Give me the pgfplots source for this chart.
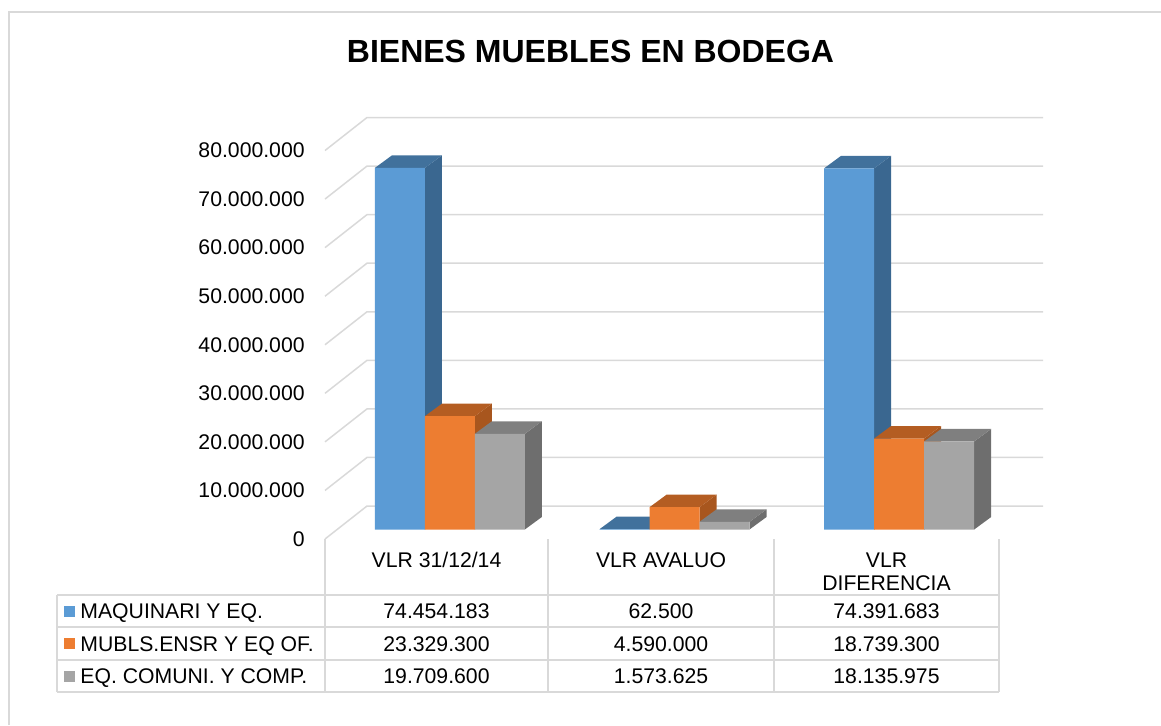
\documentclass[border=0pt]{standalone}
\usepackage{fontspec}
\setmainfont{Liberation Sans}
\usepackage{pgfplots}
\usepackage{pgfplotstable}
\pgfplotsset{compat=1.18}

\definecolor{cBlue}{HTML}{5B9BD5}
\definecolor{cBlueTop}{HTML}{41719C}
\definecolor{cBlueSide}{HTML}{3A6790}
\definecolor{cOrange}{HTML}{ED7D31}
\definecolor{cOrangeTop}{HTML}{B45D22}
\definecolor{cOrangeSide}{HTML}{A8561E}
\definecolor{cGray}{HTML}{A5A5A5}
\definecolor{cGrayTop}{HTML}{7F7F7F}
\definecolor{cGraySide}{HTML}{6E6E6E}
\definecolor{gridc}{HTML}{D9D9D9}

% values in millions
\pgfplotstableread{
x   maq        mub        eqc
0.5 74.454183  23.329300  19.709600
1.5 0.062500   4.590000   1.573625
2.5 74.391683  18.739300  18.135975
}\datatable

% bar width and 3d depth, in axis units
\def\bbw{0.222552}
\def\bdx{0.075668}
\def\bdy{2.574}

% top and side faces of one series: #1 column, #2 left edge offset, #3 top colour, #4 side colour
\newcommand\faces[4]{%
  \pgfplotsinvokeforeach{0,1,2}{%
    \pgfplotstablegetelem{##1}{#1}\of\datatable
    \pgfmathsetmacro\hh{\pgfplotsretval}%
    \pgfplotstablegetelem{##1}{x}\of\datatable
    \pgfmathsetmacro\xl{\pgfplotsretval+(#2)}%
    \pgfmathsetmacro\xr{\xl+\bbw}%
    \pgfmathsetmacro\xlb{\xl+\bdx}%
    \pgfmathsetmacro\xrb{\xr+\bdx}%
    \pgfmathsetmacro\hb{\hh+\bdy}%
    \addplot[fill=#4, draw=none] coordinates {(\xr,0) (\xrb,\bdy) (\xrb,\hb) (\xr,\hh)};
    \addplot[fill=#3, draw=none] coordinates {(\xl,\hh) (\xlb,\hb) (\xrb,\hb) (\xr,\hh)};
  }%
}

\begin{document}
\begin{tikzpicture}
% frame, walls and table lines, in pixels
\begin{scope}[x=0.5pt,y=-0.5pt]
\useasboundingbox (0,0) rectangle (1161,725);
\draw[gridc, line width=0.75pt] (9,725) -- (9,12) -- (1161,12);
\foreach \v in {0,...,8} {
  \pgfmathsetmacro\yf{539-48.5625*\v}
  \draw[gridc, line width=0.75pt] (325,\yf) -- (367,\yf-33) -- (1043,\yf-33);
}
\begin{scope}[gridc, line width=0.7pt]
  \draw (57,595) -- (999,595);
  \draw (57,627) -- (999,627);
  \draw (57,660) -- (999,660);
  \draw (57,692) -- (999,692);
  \draw (57,595) -- (57,692);
  \draw (325,539) -- (325,692);
  \draw (548,539) -- (548,692);
  \draw (774,539) -- (774,692);
  \draw (999,539) -- (999,692);
\end{scope}
\end{scope}

\begin{axis}[
  at={(168.75pt,-264.75pt)}, anchor=south west,
  scale only axis, width=337pt, height=194.25pt,
  xmin=0, xmax=3, ymin=0, ymax=80,
  clip=false,
  axis line style={draw=none},
  xtick=\empty,
  ytick={0,10,...,80},
  yticklabels={0,10.000.000,20.000.000,30.000.000,40.000.000,50.000.000,60.000.000,70.000.000,80.000.000},
  major tick length=0pt,
  yticklabel style={font=\fontsize{10.6}{12.7}\selectfont, anchor=east,
    inner sep=0pt, xshift=-16.25pt, yshift=-4.75pt},
]
\faces{maq}{-0.333828}{cBlueTop}{cBlueSide}
\addplot[ybar, bar width=25pt, bar shift=-25pt, fill=cBlue, draw=none]
  table[x=x, y=maq] {\datatable};
\faces{mub}{-0.111276}{cOrangeTop}{cOrangeSide}
\addplot[ybar, bar width=25pt, bar shift=0pt, fill=cOrange, draw=none]
  table[x=x, y=mub] {\datatable};
\faces{eqc}{0.111276}{cGrayTop}{cGraySide}
\addplot[ybar, bar width=25pt, bar shift=25pt, fill=cGray, draw=none]
  table[x=x, y=eqc] {\datatable};
\end{axis}

% title and data table text
\begin{scope}[x=0.5pt,y=-0.5pt, font=\fontsize{10.6}{12.7}\selectfont]
\node[anchor=base, font=\fontsize{16}{19}\selectfont\bfseries] at (590.5,62.5) {BIENES MUEBLES EN BODEGA};
\node[anchor=base] at (436.5,567.5) {VLR 31/12/14};
\node[anchor=base] at (661,567.5) {VLR AVALUO};
\node[anchor=base] at (886.5,567.5) {VLR};
\node[anchor=base] at (886.5,590.5) {DIFERENCIA};

\fill[cBlue] (64,605.5) rectangle (75,616.5);
\fill[cOrange] (64,638) rectangle (75,649);
\fill[cGray] (64,670.5) rectangle (75,681.5);
\node[anchor=base west, inner sep=0pt] at (80,618.6) {MAQUINARI Y EQ.};
\node[anchor=base west, inner sep=0pt] at (80,651) {MUBLS.ENSR Y EQ OF.};
\node[anchor=base west, inner sep=0pt] at (80,683.6) {EQ. COMUNI. Y COMP.};

\node[anchor=base] at (436.5,618.6) {74.454.183};
\node[anchor=base] at (661,618.6) {62.500};
\node[anchor=base] at (886.5,618.6) {74.391.683};
\node[anchor=base] at (436.5,651) {23.329.300};
\node[anchor=base] at (661,651) {4.590.000};
\node[anchor=base] at (886.5,651) {18.739.300};
\node[anchor=base] at (436.5,683.6) {19.709.600};
\node[anchor=base] at (661,683.6) {1.573.625};
\node[anchor=base] at (886.5,683.6) {18.135.975};
\end{scope}
\end{tikzpicture}
\end{document}
